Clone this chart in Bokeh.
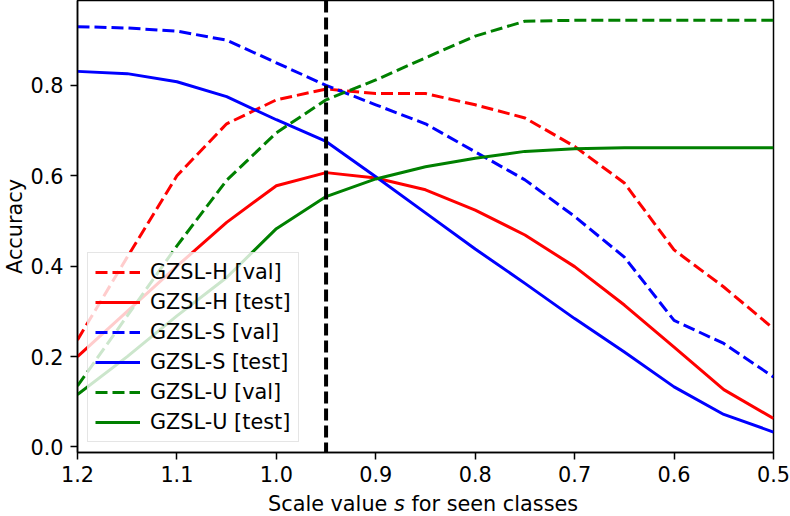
from bokeh.plotting import figure
from bokeh.models import Range1d, FixedTicker, PrintfTickFormatter, Span, Div
from bokeh.layouts import column
from bokeh.embed import file_html
from bokeh.resources import INLINE

# ---- data ----
scale = [1.2, 1.15, 1.1, 1.05, 1.0, 0.95, 0.9, 0.85, 0.8, 0.75, 0.7, 0.65, 0.6, 0.55, 0.5]
h_val = [0.237, 0.42, 0.600, 0.715, 0.768, 0.792, 0.782, 0.782, 0.757, 0.728, 0.665, 0.584, 0.436, 0.354, 0.262]
h_test = [0.200, 0.30, 0.400, 0.497, 0.578, 0.607, 0.595, 0.569, 0.524, 0.469, 0.399, 0.314, 0.221, 0.127, 0.063]
s_val = [0.930, 0.927, 0.920, 0.900, 0.850, 0.800, 0.757, 0.715, 0.653, 0.591, 0.510, 0.420, 0.280, 0.229, 0.155]
s_test = [0.831, 0.826, 0.808, 0.775, 0.724, 0.676, 0.598, 0.518, 0.438, 0.362, 0.284, 0.210, 0.133, 0.072, 0.033]
u_val = [0.135, 0.290, 0.445, 0.590, 0.695, 0.768, 0.812, 0.861, 0.909, 0.942, 0.944, 0.944, 0.944, 0.944, 0.944]
u_test = [0.116, 0.200, 0.290, 0.375, 0.483, 0.554, 0.593, 0.620, 0.639, 0.654, 0.660, 0.662, 0.662, 0.662, 0.662]
seen_scale = 0.95
x_ticks = [1.2, 1.1, 1.0, 0.9, 0.8, 0.7, 0.6, 0.5]
y_ticks = [0.0, 0.2, 0.4, 0.6, 0.8]
labels = ["GZSL-H [val]", "GZSL-H [test]", "GZSL-S [val]", "GZSL-S [test]", "GZSL-U [val]", "GZSL-U [test]"]

FONT = "DejaVu Sans"
FS = "20.8px"

p = figure(width=790, height=492, output_backend="svg", toolbar_location=None,
           x_range=Range1d(1.2, 0.5), y_range=Range1d(-0.0122, 0.9878),
           min_border_left=77, min_border_right=17, min_border_top=0, min_border_bottom=40)

p.xgrid.visible = False
p.ygrid.visible = False
p.outline_line_color = "black"
p.outline_line_width = 1.5
p.background_fill_color = "white"
p.border_fill_color = "white"

series = [
    (h_val, "#ff0000", "12 5"),
    (h_test, "#ff0000", "solid"),
    (s_val, "#0000ff", "12 5"),
    (s_test, "#0000ff", "solid"),
    (u_val, "#008000", "12 5"),
    (u_test, "#008000", "solid"),
]
for (ys, col, dash), lab in zip(series, labels):
    p.line(scale, ys, line_color=col, line_width=3, line_dash=dash,
           line_join="round", legend_label=lab)

vline = Span(location=seen_scale, dimension="height", line_color="black",
             line_width=4, line_dash="12 5")
p.add_layout(vline)

for ax in (p.xaxis, p.yaxis):
    ax.axis_line_width = 1.5
    ax.major_tick_line_width = 1.5
    ax.major_tick_out = 7
    ax.major_tick_in = 0
    ax.minor_tick_line_color = None
    ax.major_label_text_font = FONT
    ax.major_label_text_font_size = FS
    ax.major_label_text_color = "black"
    ax.axis_label_text_font = FONT
    ax.axis_label_text_font_size = FS
    ax.axis_label_text_font_style = "normal"
    ax.axis_label_text_color = "black"

p.xaxis.ticker = FixedTicker(ticks=x_ticks)
p.yaxis.ticker = FixedTicker(ticks=y_ticks)
p.xaxis.formatter = PrintfTickFormatter(format="%.1f")
p.yaxis.formatter = PrintfTickFormatter(format="%.1f")
p.xaxis.major_label_standoff = 6
p.yaxis.major_label_standoff = 7
p.yaxis.axis_label = "Accuracy"
p.yaxis.axis_label_standoff = 0

lg = p.legend[0]
lg.location = (10, 10)
lg.margin = 0
lg.padding = 7
lg.spacing = 6
lg.glyph_height = 24
lg.glyph_width = 45
lg.label_standoff = 10
lg.label_text_font = FONT
lg.label_text_font_size = FS
lg.label_text_color = "black"
lg.background_fill_color = "white"
lg.background_fill_alpha = 0.8
lg.border_line_color = "#cccccc"
lg.border_line_width = 1.5

xlabel = Div(
    text=('<div style="padding-left:268px;font-family:\'DejaVu Sans\';font-size:20.8px;'
          'line-height:24px;white-space:nowrap;color:black">'
          'Scale value <i>s</i> for seen classes</div>'),
    width=790, height=24, margin=0)

layout = column(p, xlabel, spacing=0)
open("out.html", "w").write(file_html(layout, INLINE))
